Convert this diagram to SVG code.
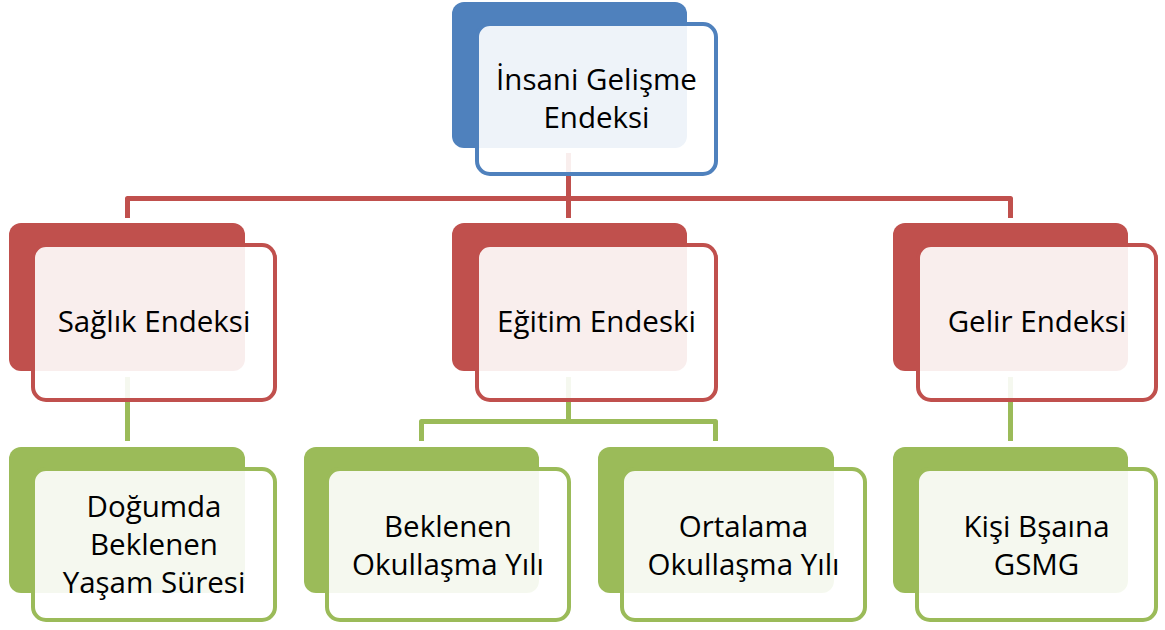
<svg xmlns="http://www.w3.org/2000/svg" width="1165" height="630" viewBox="0 0 1165 630">
<style>
.bb{fill:#4F81BD}.fb{fill:#fff;fill-opacity:0.9;stroke:#4F81BD;stroke-width:4}
.br{fill:#C0504D}.fr{fill:#fff;fill-opacity:0.9;stroke:#C0504D;stroke-width:4}
.bg{fill:#9BBB59}.fg{fill:#fff;fill-opacity:0.9;stroke:#9BBB59;stroke-width:4}
.cr{fill:none;stroke:#C0504D;stroke-width:5;stroke-linejoin:round}
.cg{fill:none;stroke:#9BBB59;stroke-width:5;stroke-linejoin:round}
text{font-family:"Open Sans","Noto Sans","Liberation Sans",sans-serif;font-size:29.5px;fill:#000;text-anchor:middle}
</style>
<rect width="1165" height="630" fill="#fff"/>
<g id="connectors">
<path class="cr" d="M127.5,218 V198.5 H1010.5 V218"/>
<path class="cr" d="M568.5,153 V218"/>
<path class="cg" d="M127.5,377 V441"/>
<path class="cg" d="M568.5,377 V421.5"/>
<path class="cg" d="M421.5,441 V421.5 H715.5 V441"/>
<path class="cg" d="M1010.5,377 V441"/>
</g>
<g id="n-insani">
<rect class="bb" x="452" y="2" width="235" height="146" rx="12"/>
<rect class="fb" x="477" y="24" width="239" height="150" rx="13"/>
<text x="596.5" y="90">İnsani Gelişme</text><text x="596.5" y="128">Endeksi</text>
</g>
<g id="n-saglik">
<rect class="br" x="9" y="223" width="236" height="148" rx="12"/>
<rect class="fr" x="33" y="245" width="242" height="155" rx="13"/>
<text x="154" y="332">Sağlık Endeksi</text>
</g>
<g id="n-egitim">
<rect class="br" x="452" y="223" width="235" height="148" rx="12"/>
<rect class="fr" x="477" y="245" width="239" height="155" rx="13"/>
<text x="596.5" y="332">Eğitim Endeski</text>
</g>
<g id="n-gelir">
<rect class="br" x="893" y="223" width="235" height="148" rx="12"/>
<rect class="fr" x="918" y="245" width="238" height="155" rx="13"/>
<text x="1037" y="332">Gelir Endeksi</text>
</g>
<g id="n-dogumda">
<rect class="bg" x="9" y="447" width="236" height="146" rx="12"/>
<rect class="fg" x="33" y="469" width="242" height="151" rx="13"/>
<text x="154" y="517">Doğumda</text><text x="154" y="555">Beklenen</text><text x="154" y="593">Yaşam Süresi</text>
</g>
<g id="n-beklenen">
<rect class="bg" x="304" y="447" width="235" height="146" rx="12"/>
<rect class="fg" x="327" y="469" width="242" height="151" rx="13"/>
<text x="448" y="537">Beklenen</text><text x="448" y="575">Okullaşma Yılı</text>
</g>
<g id="n-ortalama">
<rect class="bg" x="598" y="447" width="236" height="146" rx="12"/>
<rect class="fg" x="622" y="469" width="243" height="151" rx="13"/>
<text x="743.5" y="537">Ortalama</text><text x="743.5" y="575">Okullaşma Yılı</text>
</g>
<g id="n-kisi">
<rect class="bg" x="893" y="447" width="235" height="146" rx="12"/>
<rect class="fg" x="917" y="469" width="239" height="151" rx="13"/>
<text x="1036.5" y="537">Kişi Bşaına</text><text x="1036.5" y="575">GSMG</text>
</g>
</svg>
